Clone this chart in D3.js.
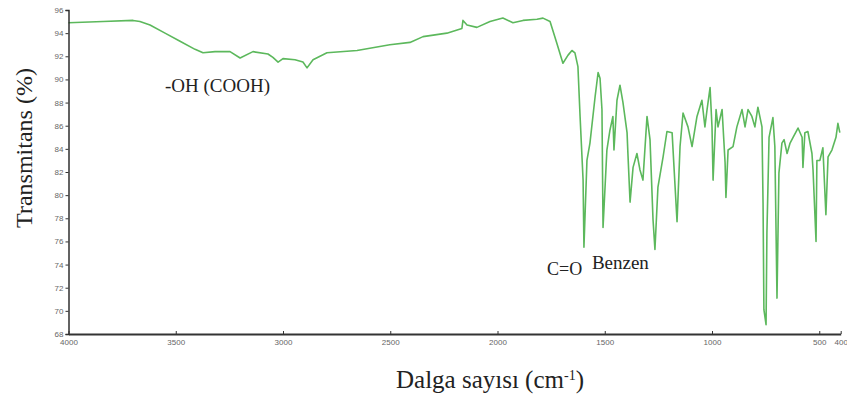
<!DOCTYPE html>
<html>
<head>
<meta charset="utf-8">
<script src="https://cdn.jsdelivr.net/npm/d3@7/dist/d3.min.js"></script>
<style>
  html, body { margin: 0; padding: 0; background: #fff; }
  svg { display: block; }
</style>
</head>
<body>
<svg id="chart" width="847" height="406"></svg>
<script>
// FTIR spectrum: wavenumber (cm-1) and transmittance (%)
const wavenumber = [
  4000, 3839, 3699, 3667, 3620, 3550, 3480, 3410, 3373, 3317, 3247, 3200, 3140, 3070, 3047, 3023, 3000,
  2944, 2907, 2888, 2860, 2795, 2655, 2502, 2408, 2347, 2236, 2166, 2161, 2142, 2096, 2035, 1975,
  1928, 1881, 1816, 1788, 1755, 1723, 1695, 1671, 1653, 1639, 1625, 1615, 1601, 1597, 1583, 1569,
  1545, 1531, 1522, 1513, 1508, 1490, 1476, 1462, 1457, 1443, 1429, 1415, 1396, 1392, 1382, 1368,
  1350, 1336, 1322, 1303, 1289, 1275, 1266, 1252, 1228, 1210, 1186, 1172, 1163, 1149, 1135, 1112,
  1093, 1070, 1047, 1033, 1023, 1009, 1000, 995, 981, 972, 953, 939, 935, 925, 902, 884,
  860, 846, 832, 814, 800, 786, 767, 762, 758, 748, 744, 734, 716, 707, 697, 688,
  674, 664, 650, 636, 622, 599, 580, 576, 567, 553, 534, 529, 515, 511, 497, 483,
  469, 459, 441, 422, 413, 404
];
const transmittance = [
  94.9, 95.0, 95.1, 95.0, 94.7, 94.0, 93.3, 92.6, 92.3, 92.4, 92.4, 91.85, 92.4, 92.2, 91.9, 91.5, 91.8,
  91.7, 91.5, 91.0, 91.7, 92.3, 92.5, 93.0, 93.2, 93.7, 94.0, 94.4, 95.1, 94.7, 94.5, 95.0, 95.3,
  94.9, 95.1, 95.2, 95.3, 95.0, 93.1, 91.4, 92.1, 92.5, 92.3, 91.1, 86.8, 81.3, 75.5, 83.0, 84.5,
  88.5, 90.6, 90.1, 87.4, 77.2, 83.9, 85.6, 86.8, 83.9, 88.2, 89.5, 88.0, 85.4, 83.6, 79.4, 82.4,
  83.6, 82.2, 81.3, 86.8, 84.8, 77.9, 75.3, 80.7, 83.3, 85.5, 85.4, 80.7, 77.7, 84.2, 87.1, 85.9,
  84.2, 86.8, 88.2, 85.9, 87.4, 89.3, 85.9, 81.3, 87.4, 85.9, 87.4, 82.8, 79.8, 83.9, 84.2, 85.9,
  87.4, 85.9, 87.4, 86.8, 85.9, 87.6, 85.9, 79.3, 70.1, 68.8, 76.7, 85.0, 86.7, 84.2, 71.1, 81.9,
  84.5, 84.8, 83.6, 84.5, 85.0, 85.8, 85.0, 82.4, 85.4, 85.5, 83.6, 82.2, 76.0, 83.0, 83.0, 84.1,
  78.3, 83.3, 83.9, 85.0, 86.2, 85.4
];

const xTicks = [4000, 3500, 3000, 2500, 2000, 1500, 1000, 500, 400];
const yTicks = [68, 70, 72, 74, 76, 78, 80, 82, 84, 86, 88, 90, 92, 94, 96];

// Peak annotations: [text, wavenumber, transmittance]
const annotations = [
  ["-OH (COOH)", 3550, 88.9],
  ["C=O", 1769, 73.1],
  ["Benzen", 1560, 73.6]
];

const W = 847, H = 406;
const margin = { top: 10, right: 6, bottom: 72, left: 68.5 };

const svg = d3.select("#chart");

const x = d3.scaleLinear().domain([4000, 400]).range([margin.left, 840.7]);
const y = d3.scaleLinear().domain([68, 96]).range([H - margin.bottom, margin.top]);

const data = wavenumber.map((w, i) => ({ w, t: transmittance[i] }));

// spectrum trace
svg.append("path")
  .datum(data)
  .attr("fill", "none")
  .attr("stroke", "#5cb85c")
  .attr("stroke-width", 1.6)
  .attr("stroke-linejoin", "round")
  .attr("d", d3.line().x(d => x(d.w)).y(d => y(d.t)));

// axes
const yAxis = svg.append("g")
  .attr("transform", `translate(${margin.left},0)`)
  .call(d3.axisLeft(y).tickValues(yTicks).tickSize(3).tickPadding(2).tickFormat(d3.format("d")));
yAxis.select(".domain").attr("stroke", "#222").attr("stroke-width", 1.4);
yAxis.selectAll(".tick line").attr("stroke", "#333");
yAxis.selectAll(".tick text")
  .attr("fill", "#666").attr("font-size", 8).attr("font-family", "Liberation Sans, Arial, sans-serif");

const xAxis = svg.append("g")
  .attr("transform", `translate(0,${H - margin.bottom})`)
  .call(d3.axisBottom(x).tickValues(xTicks).tickSizeInner(-3).tickSizeOuter(0).tickPadding(5).tickFormat(d3.format("d")));
xAxis.select(".domain").attr("stroke", "#333").attr("stroke-width", 2);
xAxis.selectAll(".tick line").attr("stroke", "#333");
xAxis.selectAll(".tick text")
  .attr("fill", "#666").attr("font-size", 8).attr("font-family", "Liberation Sans, Arial, sans-serif");

// axis titles
svg.append("text")
  .attr("transform", `translate(32,${148}) rotate(-90)`)
  .attr("text-anchor", "middle")
  .attr("font-family", "Liberation Serif, Times New Roman, serif")
  .attr("font-size", 24)
  .attr("fill", "#222")
  .text("Transmitans (%)");

const xt = svg.append("text")
  .attr("x", 490).attr("y", 388)
  .attr("text-anchor", "middle")
  .attr("font-family", "Liberation Serif, Times New Roman, serif")
  .attr("font-size", 25)
  .attr("fill", "#222");
xt.append("tspan").text("Dalga sayısı (cm");
xt.append("tspan").attr("dy", -8).attr("font-size", 14).text("-1");
xt.append("tspan").attr("dy", 8).text(")");

// peak labels
svg.selectAll("text.ann")
  .data(annotations)
  .join("text")
  .attr("class", "ann")
  .attr("x", d => x(d[1]))
  .attr("y", d => y(d[2]))
  .attr("font-family", "Liberation Serif, Times New Roman, serif")
  .attr("font-size", (d, i) => i === 1 ? 18 : 19)
  .attr("fill", "#222")
  .text(d => d[0]);
</script>
</body>
</html>
